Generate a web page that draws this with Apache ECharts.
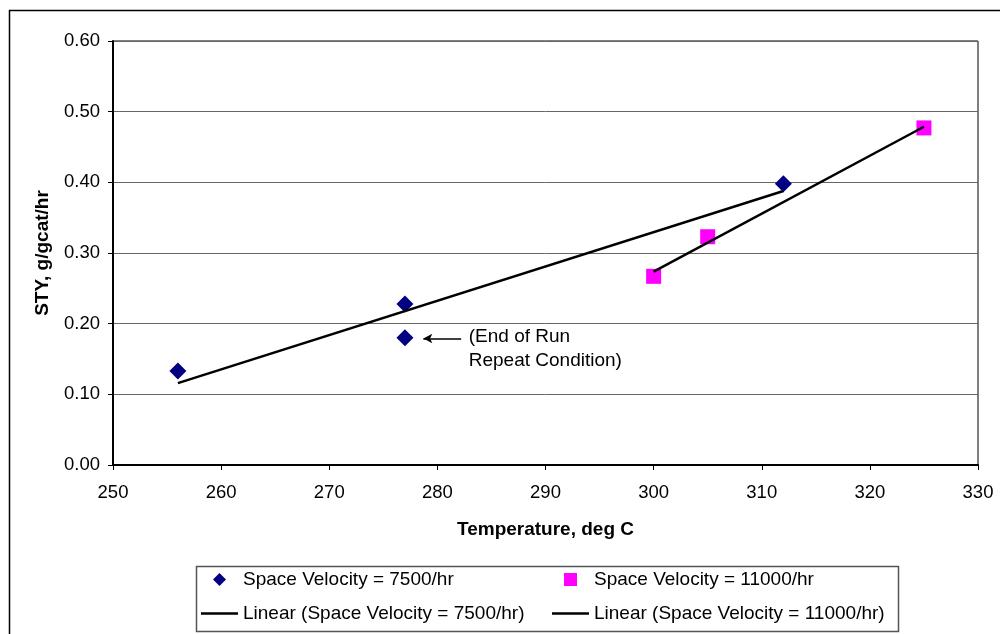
<!DOCTYPE html>
<html>
<head>
<meta charset="utf-8">
<script src="https://cdn.jsdelivr.net/npm/echarts@6/dist/echarts.min.js"></script>
<style>
html,body{margin:0;padding:0;background:#fff;}
#chartmain{width:1000px;height:634px;}
</style>
</head>
<body>
<div id="chartmain"></div>
<script>
// 数据
var sv7500X = [256, 277, 277, 312];
var sv7500Y = [0.133, 0.228, 0.180, 0.398];
var sv11000X = [300, 305, 325];
var sv11000Y = [0.267, 0.323, 0.477];
var names = ['Space Velocity = 7500/hr', 'Space Velocity = 11000/hr',
    'Linear (Space Velocity = 7500/hr)', 'Linear (Space Velocity = 11000/hr)'];
var noteText = '(End of Run\nRepeat Condition)';

function pairs(xs, ys) {
    var out = [];
    for (var i = 0; i < xs.length; i++) out.push([xs[i], ys[i]]);
    return out;
}

// 线性趋势线（最小二乘）
function trend(xs, ys) {
    var n = xs.length, mx = 0, my = 0, sxy = 0, sxx = 0;
    for (var i = 0; i < n; i++) { mx += xs[i]; my += ys[i]; }
    mx /= n; my /= n;
    for (var i = 0; i < n; i++) {
        sxy += (xs[i] - mx) * (ys[i] - my);
        sxx += (xs[i] - mx) * (xs[i] - mx);
    }
    var k = sxy / sxx, b = my - k * mx;
    var x0 = Math.min.apply(null, xs), x1 = Math.max.apply(null, xs);
    return [[x0, k * x0 + b], [x1, k * x1 + b]];
}

var font = 'Liberation Sans, Arial, sans-serif';
var legendText = {fontFamily: font, fontSize: 19, color: '#000'};
var iconDiamond = 'path://M6,0 L12,6 L6,12 L0,6Z';
var iconSquare = 'path://M0,0 L12,0 L12,12 L0,12Z';
var iconLine = 'path://M0,0 L37,0 L37,2.5 L0,2.5Z';

option = {
    animation: false,
    textStyle: {fontFamily: font},
    grid: {left: 113, right: 22, top: 41, bottom: 169, show: true, borderColor: '#000', borderWidth: 1},
    graphic: [
        {type: 'rect', left: 7, top: 8, shape: {width: 1100, height: 800},
            style: {fill: 'none', stroke: '#000', lineWidth: 1.5}, silent: true},
        {type: 'rect', left: 194, top: 564, shape: {width: 702, height: 65},
            style: {fill: 'none', stroke: '#555', lineWidth: 1.5}, silent: true}
    ],
    xAxis: {
        type: 'value', min: 250, max: 330, interval: 10,
        name: 'Temperature, deg C', nameLocation: 'middle', nameGap: 55,
        nameTextStyle: {fontFamily: font, fontSize: 19, fontWeight: 'bold', color: '#000'},
        axisLine: {show: true, lineStyle: {color: '#000', width: 2}},
        axisTick: {show: true, length: 5, lineStyle: {color: '#000'}},
        axisLabel: {margin: 18, fontSize: 18.5, color: '#000', fontFamily: font},
        splitLine: {show: false}
    },
    yAxis: {
        type: 'value', min: 0, max: 0.6, interval: 0.1,
        name: 'STY, g/gcat/hr', nameLocation: 'middle', nameGap: 61,
        nameTextStyle: {fontFamily: font, fontSize: 19, fontWeight: 'bold', color: '#000'},
        axisLine: {show: true, lineStyle: {color: '#000', width: 2}},
        axisTick: {show: true, length: 5, lineStyle: {color: '#000'}},
        axisLabel: {margin: 13, fontSize: 18.5, color: '#000', fontFamily: font,
            formatter: function (v) { return v.toFixed(2); }},
        splitLine: {show: true, lineStyle: {color: '#666', width: 1}}
    },
    legend: [
        {
            orient: 'vertical', left: 201, top: 570, padding: 0, itemGap: 15, itemWidth: 37, itemHeight: 13,
            textStyle: legendText, selectedMode: false, symbolKeepAspect: true,
            data: [
                {name: names[0], icon: iconDiamond, itemStyle: {color: '#000080'}},
                {name: names[2], icon: iconLine, itemStyle: {color: '#000'}}
            ]
        },
        {
            orient: 'vertical', left: 552, top: 570, padding: 0, itemGap: 15, itemWidth: 37, itemHeight: 13,
            textStyle: legendText, selectedMode: false, symbolKeepAspect: true,
            data: [
                {name: names[1], icon: iconSquare, itemStyle: {color: '#ff00ff'}},
                {name: names[3], icon: iconLine, itemStyle: {color: '#000'}}
            ]
        }
    ],
    series: [
        {
            name: names[2], type: 'line', data: trend(sv7500X, sv7500Y),
            symbol: 'none', lineStyle: {color: '#000', width: 2.5}, itemStyle: {color: '#000'}, z: 3
        },
        {
            name: names[3], type: 'line', data: trend(sv11000X, sv11000Y),
            symbol: 'none', lineStyle: {color: '#000', width: 2.5}, itemStyle: {color: '#000'}, z: 3
        },
        {
            name: names[0], type: 'scatter', data: pairs(sv7500X, sv7500Y),
            symbol: 'diamond', symbolSize: 17, itemStyle: {color: '#000080', opacity: 1}, z: 2,
            markLine: {
                silent: true, symbol: ['none', 'arrow'], symbolSize: [7, 9],
                lineStyle: {color: '#000', width: 1.5, type: 'solid'}, label: {show: false},
                data: [[{coord: [282.2, 0.179]}, {coord: [278.7, 0.179]}]]
            },
            markPoint: {
                silent: true, symbol: 'circle', symbolSize: 0,
                data: [{coord: [282.9, 0.181], value: noteText}],
                label: {show: true, position: [0, -12], align: 'left', verticalAlign: 'top',
                    formatter: noteText, fontSize: 19, lineHeight: 24, color: '#000', fontFamily: font}
            }
        },
        {
            name: names[1], type: 'scatter', data: pairs(sv11000X, sv11000Y),
            symbol: 'rect', symbolSize: 15, itemStyle: {color: '#ff00ff', opacity: 1}, z: 2
        }
    ]
};

var myChart = echarts.init(document.getElementById('chartmain'));
myChart.setOption(option);
</script>
</body>
</html>
